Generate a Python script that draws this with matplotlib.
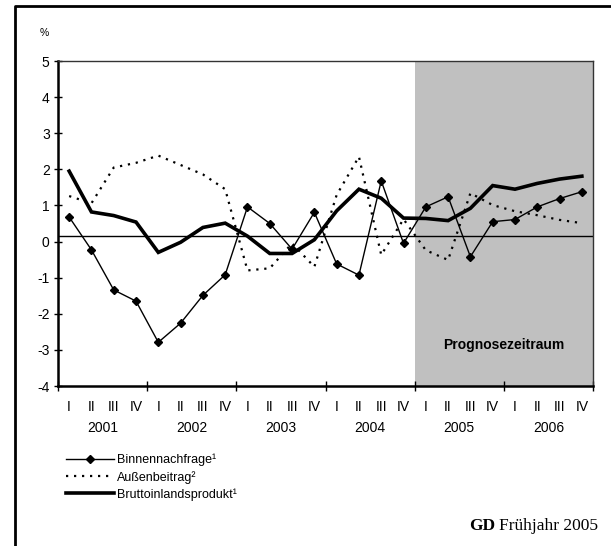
import numpy as np
import matplotlib.pyplot as plt
from matplotlib.lines import Line2D

plt.rcParams['font.family'] = ['Liberation Sans', 'DejaVu Sans']
plt.rcParams['axes.unicode_minus'] = False

# quarterly values 2001 I .. 2006 IV, in %
years = ['2001', '2002', '2003', '2004', '2005', '2006']
quarters = ['I', 'II', 'III', 'IV']
binnen = [0.68, -0.23, -1.34, -1.65, -2.79, -2.26, -1.49, -0.92,
          0.96, 0.50, -0.21, 0.81, -0.62, -0.93, 1.68, -0.05,
          0.96, 1.24, -0.42, 0.55, 0.61, 0.96, 1.19, 1.38]
aussen = [1.26, 1.06, 2.05, 2.18, 2.38, 2.12, 1.86, 1.45,
          -0.80, -0.74, -0.05, -0.70, 1.29, 2.35, -0.37, 0.62,
          -0.24, -0.51, 1.34, 1.01, 0.84, 0.73, 0.60, 0.51]
bip = [1.95, 0.82, 0.72, 0.54, -0.30, -0.02, 0.39, 0.51,
       0.15, -0.33, -0.33, 0.05, 0.85, 1.45, 1.20, 0.65,
       0.64, 0.58, 0.92, 1.55, 1.45, 1.61, 1.73, 1.81]
ref_line = 0.15
forecast_start = 16  # first quarter of 2005

fig = plt.figure(figsize=(6.11, 5.46), dpi=100)
ax = fig.add_axes([58/611, 1-386/546, (593-58)/611, (386-61)/546])

x = np.arange(len(bip)) + 0.5
ax.axvspan(forecast_start, len(bip), color='#c0c0c0', lw=0, zorder=0)
ax.axhline(ref_line, color='black', lw=1, zorder=1)

l1, = ax.plot(x, binnen, color='black', lw=1, marker='D', markersize=4, zorder=3,
              label='Binnennachfrage¹')
l2, = ax.plot(x, aussen, color='black', lw=1.6, linestyle=(0, (1, 2.6)), zorder=2,
              label='Außenbeitrag²')
l3, = ax.plot(x, bip, color='black', lw=2.6, zorder=4, solid_joinstyle='miter',
              label='Bruttoinlandsprodukt¹')

ax.set_xlim(0, len(bip))
ax.set_ylim(-4, 5)
ax.set_yticks(range(-4, 6))
ax.set_xticks(range(0, len(bip) + 1, 4))
ax.set_xticklabels([])
ax.tick_params(axis='y', direction='inout', length=6, width=1, labelsize=10, pad=3)
ax.tick_params(axis='x', direction='inout', length=7, width=1)

for s in ['left', 'bottom']:
    ax.spines[s].set_linewidth(1.8)
for s in ['top', 'right']:
    ax.spines[s].set_linewidth(1)
    ax.spines[s].set_color('#333333')

tr = ax.get_xaxis_transform()
for i in range(len(bip)):
    ax.text(i + 0.5, -0.065, quarters[i % 4], transform=tr, ha='center', va='center',
            fontsize=10)
for k, yr in enumerate(years):
    ax.text(4*k + 2, -0.13, yr, transform=tr, ha='center', va='center', fontsize=10)

ax.text(20, -2.87, 'Prognosezeitraum', ha='center', va='center', fontsize=10,
        fontweight='bold')
fig.text(44/611, 1-33/546, '%', ha='center', va='center', fontsize=7.5)

fig.legend(handles=[l1, l2, l3], loc='upper left', bbox_to_anchor=(66/611, 1-454/546),
           frameon=False, fontsize=9, handlelength=3.8, handletextpad=0.3,
           labelspacing=0.35, borderpad=0, borderaxespad=0)

# source note: bold "GD" followed by regular text
t2 = fig.text(598/611, 1-530/546, 'Frühjahr 2005', ha='right', va='baseline',
              fontsize=12.5, family='Liberation Serif')
fig.canvas.draw()
bb = t2.get_window_extent()
fig.text((bb.x0 - 4)/611, 1-530/546, 'GD', ha='right', va='baseline',
         fontsize=12.5, family='Liberation Serif', fontweight='bold')

fig.lines.append(Line2D([15/611, 15/611, 1], [0, 1-6/546, 1-6/546],
                        transform=fig.transFigure, color='black', lw=2))

fig.savefig('out.png', dpi=100)
